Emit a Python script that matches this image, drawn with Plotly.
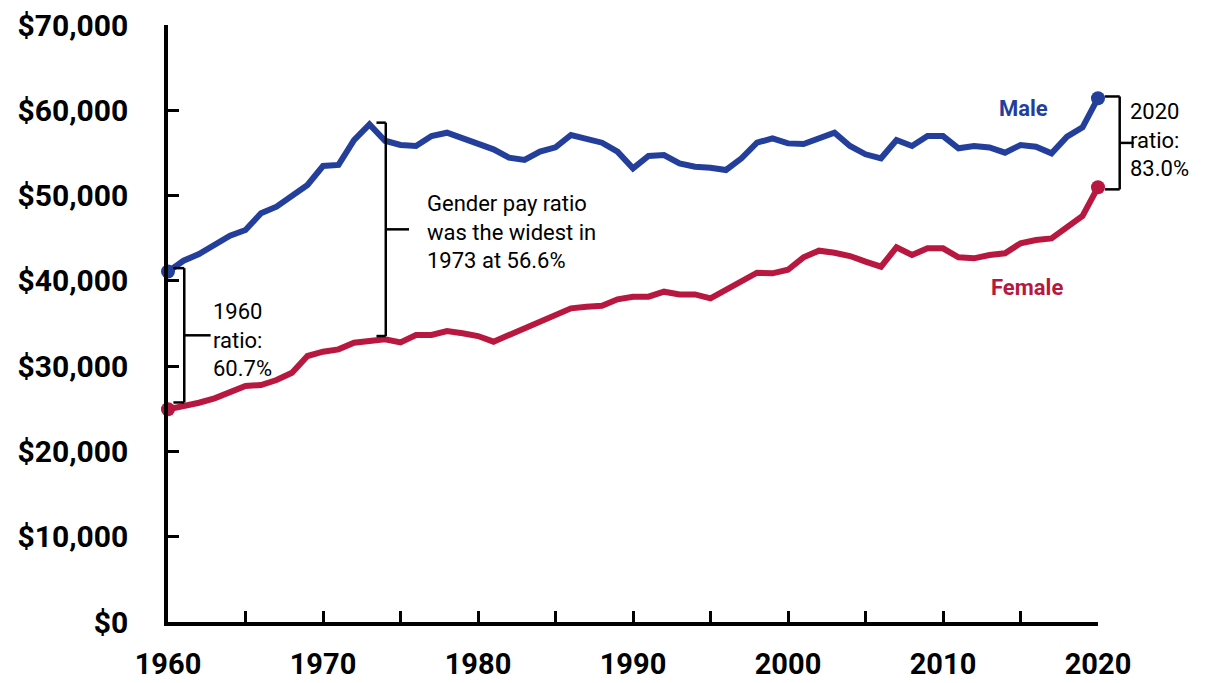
import plotly.graph_objects as go

years = list(range(1960, 2021))
male = [41090, 42360, 43150, 44200, 45300, 45960, 47920, 48700, 50060, 51240,
        53470, 53600, 56510, 58350, 56430, 55930, 55810, 56980, 57370, 56710,
        56100, 55420, 54440, 54170, 55150, 55650, 57100, 56710, 56200, 55150,
        53190, 54640, 54750, 53780, 53390, 53270, 53000, 54370, 56200, 56710,
        56120, 56040, 56710, 57370, 55810, 54840, 54370, 56510, 55810, 56980,
        56980, 55540, 55810, 55650, 55030, 55930, 55730, 54950, 56900, 58000,
        61420]
female = [24940, 25240, 25710, 26230, 26890, 27670, 27790, 28370, 29230, 31190,
          31690, 31970, 32750, 33030, 33150, 32790, 33650, 33650, 34120, 33850,
          33530, 32870, 33650, 34550, 35210, 36000, 36780, 36970, 37090, 37840,
          38140, 38140, 38730, 38410, 38410, 37950, 39010, 40100, 40960, 40880,
          41300, 42760, 43540, 43300, 42910, 42250, 41660, 43930, 43030, 43810,
          43810, 42760, 42640, 43030, 43230, 44400, 44790, 44980, 46260, 47600,
          50980]
y_ticks = list(range(0, 70001, 10000))
y_labels = ["$0", "$10,000", "$20,000", "$30,000", "$40,000", "$50,000", "$60,000", "$70,000"]
x_ticks = list(range(1960, 2021, 5))
x_labels = [str(v) if v % 10 == 0 else "" for v in x_ticks]

BLUE = "#243F9B"
RED = "#B8183F"

fig = go.Figure()
for vals, col, nm in [(male, BLUE, "Male"), (female, RED, "Female")]:
    fig.add_trace(go.Scatter(x=years, y=vals, mode="lines", name=nm,
                             line=dict(color=col, width=6), cliponaxis=False, showlegend=False))
    fig.add_trace(go.Scatter(x=[years[0], years[-1]], y=[vals[0], vals[-1]], mode="markers",
                             marker=dict(size=14, color=col, opacity=1, line=dict(width=0)),
                             cliponaxis=False, showlegend=False, hoverinfo="skip"))

x0, x1 = years[0], years[-1]
def px(year):
    return (year - x0) / (x1 - x0)

shapes = []
def bracket(xv, xarm, xmid, top, bot):
    line = dict(color="black", width=2.5)
    shapes.append(dict(type="line", xref="paper", yref="y", x0=px(xv), x1=px(xv), y0=bot, y1=top, line=line))
    shapes.append(dict(type="line", xref="paper", yref="y", x0=px(xarm), x1=px(xv), y0=top, y1=top, line=line))
    shapes.append(dict(type="line", xref="paper", yref="y", x0=px(xarm), x1=px(xv), y0=bot, y1=bot, line=line))
    mid = (top + bot) / 2
    shapes.append(dict(type="line", xref="paper", yref="y", x0=px(xv), x1=px(xmid), y0=mid, y1=mid, line=line))

i73 = years.index(1973)
bracket(1961.05, 1960.35, 1962.75, male[0] + 400, female[0] + 800)
bracket(1974.05, 1973.45, 1975.55, male[i73] + 200, female[i73] + 500)
bracket(2021.4, 2020.45, 2022.3, male[-1] + 200, female[-1] - 250)

txt_font = dict(family="Roboto", size=22, color="black")
annotations = [
    dict(x=px(1962.8), y=(male[0] + female[0]) / 2, xref="paper", yref="y",
         text="1960<br>ratio:<br>60.7%", showarrow=False, xanchor="left", yanchor="middle",
         align="left", font=txt_font),
    dict(x=px(1976.6), y=(male[i73] + female[i73]) / 2, xref="paper", yref="y",
         text="Gender pay ratio<br>was the widest in<br>1973 at 56.6%", showarrow=False,
         xanchor="left", yanchor="middle", align="left", font=txt_font),
    dict(x=px(2021.95), y=(male[-1] + female[-1]) / 2 + 300, xref="paper", yref="y",
         text="2020<br>ratio:<br>83.0%", showarrow=False, xanchor="left", yanchor="middle",
         align="left", font=txt_font),
    dict(x=2015.2, y=60200, text="<b>Male</b>", showarrow=False, xanchor="center", yanchor="middle",
         font=dict(family="Roboto", size=22, color=BLUE)),
    dict(x=2015.4, y=39200, text="<b>Female</b>", showarrow=False, xanchor="center", yanchor="middle",
         font=dict(family="Roboto", size=22, color=RED)),
]

fig.update_layout(
    width=1203, height=675,
    margin=dict(l=160, r=113, t=17, b=61, autoexpand=False),
    paper_bgcolor="white", plot_bgcolor="white",
    shapes=shapes, annotations=annotations,
    xaxis=dict(range=[x0, x1], tickmode="array", tickvals=x_ticks, ticktext=x_labels,
               ticks="inside", ticklen=11, tickwidth=3, tickcolor="black", automargin=False,
               showline=True, linecolor="black", linewidth=3.5, showgrid=False, zeroline=False,
               ticklabelstandoff=13, ticklabeloverflow="allow",
               tickfont=dict(family="Roboto", size=29, color="black", weight="bold")),
    yaxis=dict(range=[0, 70000], tickmode="array", tickvals=y_ticks, ticktext=y_labels,
               ticks="inside", ticklen=11, tickwidth=3, tickcolor="black", automargin=False,
               showline=True, linecolor="black", linewidth=3.5, showgrid=False, zeroline=False,
               ticklabelstandoff=30, ticklabeloverflow="allow",
               tickfont=dict(family="Roboto", size=30, color="black", weight="bold")),
)

fig.write_html("out.html")
